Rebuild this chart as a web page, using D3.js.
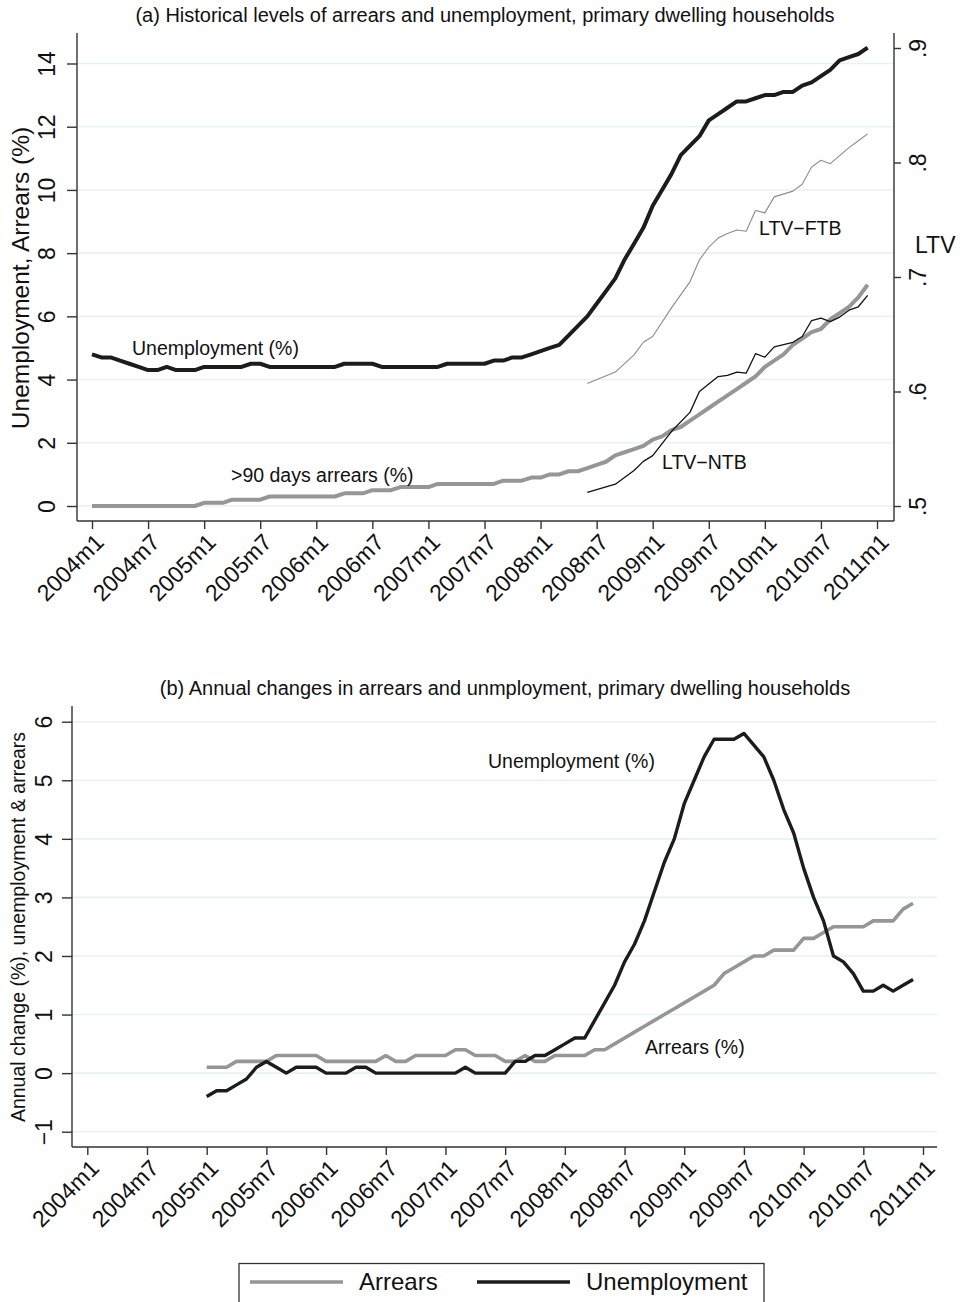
<!DOCTYPE html>
<html>
<head>
<meta charset="utf-8">
<script src="https://cdn.jsdelivr.net/npm/d3@7"></script>
<style>
    body { margin: 0; background: #fff; }
    svg text { font-family: "Liberation Sans", Arial, Helvetica, sans-serif; fill: #111; }
    .grid line { stroke: #e8f1f3; stroke-width: 1.6; }
    .axis path, .axis line { stroke: #333; stroke-width: 1.4; }
    .axis text { font-size: 23px; }
    .series { fill: none; stroke-linejoin: round; stroke-linecap: butt; }
</style>
</head>
<body>
<svg id="chart" width="966" height="1302"></svg>
<script>

/* x axis tick labels (monthly, Stata style) */
var X_TICKS = ["2004m1", "2004m7", "2005m1", "2005m7", "2006m1", "2006m7", "2007m1", "2007m7",
    "2008m1", "2008m7", "2009m1", "2009m7", "2010m1", "2010m7", "2011m1"];

/* panel (a): levels, monthly from 2004m1 */
var LEVEL_START = "2004m1";
var UNEMPLOYMENT_LEVEL = [4.8, 4.7, 4.7, 4.6, 4.5, 4.4, 4.3, 4.3, 4.4, 4.3, 4.3, 4.3,
    4.4, 4.4, 4.4, 4.4, 4.4, 4.5, 4.5, 4.4, 4.4, 4.4, 4.4, 4.4,
    4.4, 4.4, 4.4, 4.5, 4.5, 4.5, 4.5, 4.4, 4.4, 4.4, 4.4, 4.4,
    4.4, 4.4, 4.5, 4.5, 4.5, 4.5, 4.5, 4.6, 4.6, 4.7, 4.7, 4.8,
    4.9, 5.0, 5.1, 5.4, 5.7, 6.0, 6.4, 6.8, 7.2, 7.8, 8.3, 8.8,
    9.5, 10.0, 10.5, 11.1, 11.4, 11.7, 12.2, 12.4, 12.6, 12.8, 12.8, 12.9,
    13.0, 13.0, 13.1, 13.1, 13.3, 13.4, 13.6, 13.8, 14.1, 14.2, 14.3, 14.5];
var ARREARS_LEVEL = [0, 0, 0, 0, 0, 0, 0, 0, 0, 0, 0, 0,
    0.1, 0.1, 0.1, 0.2, 0.2, 0.2, 0.2, 0.3, 0.3, 0.3, 0.3, 0.3,
    0.3, 0.3, 0.3, 0.4, 0.4, 0.4, 0.5, 0.5, 0.5, 0.6, 0.6, 0.6,
    0.6, 0.7, 0.7, 0.7, 0.7, 0.7, 0.7, 0.7, 0.8, 0.8, 0.8, 0.9,
    0.9, 1.0, 1.0, 1.1, 1.1, 1.2, 1.3, 1.4, 1.6, 1.7, 1.8, 1.9,
    2.1, 2.2, 2.4, 2.5, 2.7, 2.9, 3.1, 3.3, 3.5, 3.7, 3.9, 4.1,
    4.4, 4.6, 4.8, 5.1, 5.3, 5.5, 5.6, 5.9, 6.1, 6.3, 6.6, 7.0];

/* LTV series (right axis), only from mid 2008 */
var LTV_FTB_MONTHS = ["2008m6", "2008m9", "2008m11", "2008m12", "2009m1", "2009m3", "2009m5", "2009m6",
    "2009m7", "2009m8", "2009m9", "2009m10", "2009m11", "2009m12", "2010m1", "2010m2", "2010m4",
    "2010m5", "2010m6", "2010m7", "2010m8", "2010m9", "2010m10", "2010m11", "2010m12"];
var LTV_FTB = [0.607, 0.617, 0.632, 0.643, 0.648, 0.673, 0.696, 0.715,
    0.726, 0.734, 0.738, 0.741, 0.740, 0.758, 0.756, 0.770, 0.775,
    0.781, 0.796, 0.802, 0.799, 0.806, 0.813, 0.819, 0.825];
var LTV_NTB_MONTHS = ["2008m6", "2008m9", "2008m11", "2008m12", "2009m1", "2009m3", "2009m5", "2009m6",
    "2009m8", "2009m9", "2009m10", "2009m11", "2009m12", "2010m1", "2010m2", "2010m4",
    "2010m5", "2010m6", "2010m7", "2010m8", "2010m9", "2010m10", "2010m11", "2010m12"];
var LTV_NTB = [0.512, 0.519, 0.531, 0.539, 0.544, 0.565, 0.582, 0.600,
    0.613, 0.614, 0.617, 0.616, 0.633, 0.630, 0.639, 0.643,
    0.648, 0.662, 0.664, 0.661, 0.665, 0.671, 0.674, 0.684];

/* panel (b): annual changes, monthly from 2005m1 */
var CHANGE_START = "2005m1";
var UNEMPLOYMENT_CHANGE = [-0.4, -0.3, -0.3, -0.2, -0.1, 0.1, 0.2, 0.1, 0.0, 0.1, 0.1, 0.1,
    0, 0, 0, 0.1, 0.1, 0, 0, 0, 0, 0, 0, 0,
    0, 0, 0.1, 0, 0, 0, 0, 0.2, 0.2, 0.3, 0.3, 0.4,
    0.5, 0.6, 0.6, 0.9, 1.2, 1.5, 1.9, 2.2, 2.6, 3.1, 3.6, 4.0,
    4.6, 5.0, 5.4, 5.7, 5.7, 5.7, 5.8, 5.6, 5.4, 5.0, 4.5, 4.1,
    3.5, 3.0, 2.6, 2.0, 1.9, 1.7, 1.4, 1.4, 1.5, 1.4, 1.5, 1.6];
var ARREARS_CHANGE = [0.1, 0.1, 0.1, 0.2, 0.2, 0.2, 0.2, 0.3, 0.3, 0.3, 0.3, 0.3,
    0.2, 0.2, 0.2, 0.2, 0.2, 0.2, 0.3, 0.2, 0.2, 0.3, 0.3, 0.3,
    0.3, 0.4, 0.4, 0.3, 0.3, 0.3, 0.2, 0.2, 0.3, 0.2, 0.2, 0.3,
    0.3, 0.3, 0.3, 0.4, 0.4, 0.5, 0.6, 0.7, 0.8, 0.9, 1.0, 1.1,
    1.2, 1.3, 1.4, 1.5, 1.7, 1.8, 1.9, 2.0, 2.0, 2.1, 2.1, 2.1,
    2.3, 2.3, 2.4, 2.5, 2.5, 2.5, 2.5, 2.6, 2.6, 2.6, 2.8, 2.9];

var LEFT_TICKS_A = [0, 2, 4, 6, 8, 10, 12, 14];
var RIGHT_TICKS_A = [0.5, 0.6, 0.7, 0.8, 0.9];
var RIGHT_TICK_LABELS_A = [".5", ".6", ".7", ".8", ".9"];
var LEFT_TICKS_B = [-1, 0, 1, 2, 3, 4, 5, 6];

var COLOR_UNEMP = "#1c1c1c";
var COLOR_ARREARS = "#969696";

/**
 * "2008m6" -> months since 2004m1
 */
function monthIndex(label){
    var parts = label.split("m");
    return (+parts[0] - 2004) * 12 + (+parts[1] - 1);
}

function fromStart(start, values){
    var m0 = monthIndex(start);
    return values.map(function(v, i){ return {m: m0 + i, v: v}; });
}

function fromMonths(months, values){
    return values.map(function(v, i){ return {m: monthIndex(months[i]), v: v}; });
}

var svg = d3.select("#chart");

drawPanelA();
drawPanelB();
drawLegend();

function addLabel(x, y, txt, size, anchor){
    return svg.append("text")
        .attr("x", x).attr("y", y)
        .attr("text-anchor", anchor || "start")
        .style("font-size", size + "px")
        .text(txt);
}

function styleBottomAxis(g){
    g.selectAll(".tick text")
        .attr("y", null).attr("dy", "0.35em")
        .attr("text-anchor", "end")
        .attr("transform", "translate(7,17) rotate(-45)");
    g.select(".domain").attr("stroke-width", 1.6);
}

function drawPanelA(){
    var left = 77, right = 894, top = 33, bottom = 521;
    var x = d3.scaleLinear().domain([0, 84]).range([92, 877]);
    var y = d3.scaleLinear().domain([0, 14]).range([506, 63.5]);
    var yR = d3.scaleLinear().domain([0.5, 0.9]).range([506, 48]);

    /* grid */
    svg.append("g").classed("grid", true).selectAll("line")
        .data(LEFT_TICKS_A).enter().append("line")
        .attr("x1", left).attr("x2", right)
        .attr("y1", function(d){ return y(d); })
        .attr("y2", function(d){ return y(d); });

    var line = d3.line()
        .x(function(d){ return x(d.m); })
        .y(function(d){ return y(d.v); });
    var lineR = d3.line()
        .x(function(d){ return x(d.m); })
        .y(function(d){ return yR(d.v); });

    svg.append("path").classed("series", true)
        .attr("stroke", COLOR_ARREARS).attr("stroke-width", 4)
        .attr("d", line(fromStart(LEVEL_START, ARREARS_LEVEL)));
    svg.append("path").classed("series", true)
        .attr("stroke", "#8c8c8c").attr("stroke-width", 1.1)
        .attr("d", lineR(fromMonths(LTV_FTB_MONTHS, LTV_FTB)));
    svg.append("path").classed("series", true)
        .attr("stroke", "#111").attr("stroke-width", 1.3)
        .attr("d", lineR(fromMonths(LTV_NTB_MONTHS, LTV_NTB)));
    svg.append("path").classed("series", true)
        .attr("stroke", COLOR_UNEMP).attr("stroke-width", 4)
        .attr("d", line(fromStart(LEVEL_START, UNEMPLOYMENT_LEVEL)));

    /* axes */
    var gl = svg.append("g").classed("axis", true)
        .attr("transform", "translate(" + left + ",0)")
        .call(d3.axisLeft(y).tickValues(LEFT_TICKS_A).tickSize(10).tickSizeOuter(0));
    gl.select(".domain").attr("d", "M0," + top + "V" + bottom);
    gl.selectAll(".tick text")
        .attr("x", null).attr("dy", null)
        .attr("text-anchor", "middle")
        .attr("transform", "translate(-22,0) rotate(-90)");

    var gr = svg.append("g").classed("axis", true)
        .attr("transform", "translate(" + right + ",0)")
        .call(d3.axisRight(yR).tickValues(RIGHT_TICKS_A).tickSize(7).tickSizeOuter(0)
            .tickFormat(function(d, i){ return RIGHT_TICK_LABELS_A[i]; }));
    gr.select(".domain").attr("d", "M0," + top + "V" + bottom);
    gr.selectAll(".tick text")
        .attr("x", null).attr("dy", null)
        .attr("text-anchor", "middle")
        .attr("transform", "translate(32,0) rotate(-90)");

    var gb = svg.append("g").classed("axis", true)
        .attr("transform", "translate(0," + bottom + ")")
        .call(d3.axisBottom(x).tickValues(X_TICKS.map(monthIndex)).tickSize(8).tickSizeOuter(0)
            .tickFormat(function(d, i){ return X_TICKS[i]; }));
    gb.select(".domain").attr("d", "M" + left + ",0H" + right);
    styleBottomAxis(gb);

    /* titles and labels */
    addLabel(485, 22, "(a) Historical levels of arrears and unemployment, primary dwelling households", 20, "middle");
    svg.append("text")
        .attr("transform", "translate(29,278) rotate(-90)")
        .attr("text-anchor", "middle")
        .style("font-size", "24.5px")
        .text("Unemployment, Arrears (%)");
    addLabel(915, 253, "LTV", 23);
    addLabel(132, 355, "Unemployment (%)", 19.5);
    addLabel(231, 482, ">90 days arrears (%)", 19.5);
    addLabel(759, 235, "LTV\u2212FTB", 19.5);
    addLabel(662, 469, "LTV\u2212NTB", 19.5);
}

function drawPanelB(){
    var left = 72, right = 937, top = 706, bottom = 1147;
    var x = d3.scaleLinear().domain([0, 84]).range([87.3, 923]);
    var y = d3.scaleLinear().domain([-1, 6]).range([1131.7, 721.7]);

    svg.append("g").classed("grid", true).selectAll("line")
        .data(LEFT_TICKS_B).enter().append("line")
        .attr("x1", left).attr("x2", right)
        .attr("y1", function(d){ return y(d); })
        .attr("y2", function(d){ return y(d); });

    var line = d3.line()
        .x(function(d){ return x(d.m); })
        .y(function(d){ return y(d.v); });

    svg.append("path").classed("series", true)
        .attr("stroke", COLOR_ARREARS).attr("stroke-width", 3.6)
        .attr("d", line(fromStart(CHANGE_START, ARREARS_CHANGE)));
    svg.append("path").classed("series", true)
        .attr("stroke", COLOR_UNEMP).attr("stroke-width", 3.4)
        .attr("d", line(fromStart(CHANGE_START, UNEMPLOYMENT_CHANGE)));

    var gl = svg.append("g").classed("axis", true)
        .attr("transform", "translate(" + left + ",0)")
        .call(d3.axisLeft(y).tickValues(LEFT_TICKS_B).tickSize(10).tickSizeOuter(0)
            .tickFormat(function(d){ return d < 0 ? "\u2212" + Math.abs(d) : d; }));
    gl.select(".domain").attr("d", "M0," + top + "V" + bottom);
    gl.selectAll(".tick text")
        .attr("x", null).attr("dy", null)
        .attr("text-anchor", "middle")
        .attr("transform", "translate(-20,0) rotate(-90)");

    var gb = svg.append("g").classed("axis", true)
        .attr("transform", "translate(0," + bottom + ")")
        .call(d3.axisBottom(x).tickValues(X_TICKS.map(monthIndex)).tickSize(8).tickSizeOuter(0)
            .tickFormat(function(d, i){ return X_TICKS[i]; }));
    gb.select(".domain").attr("d", "M" + left + ",0H" + right);
    styleBottomAxis(gb);

    addLabel(505, 695, "(b) Annual changes in arrears and unmployment, primary dwelling households", 20, "middle");
    svg.append("text")
        .attr("transform", "translate(25,927) rotate(-90)")
        .attr("text-anchor", "middle")
        .style("font-size", "19.5px")
        .text("Annual change (%), unemployment & arrears");
    addLabel(488, 768, "Unemployment (%)", 19.5);
    addLabel(645, 1054, "Arrears (%)", 19.5);
}

function drawLegend(){
    var g = svg.append("g");
    g.append("rect")
        .attr("x", 239).attr("y", 1263.5).attr("width", 525).attr("height", 60)
        .attr("fill", "#fff").attr("stroke", "#333").attr("stroke-width", 1.3);

    var items = [
        {label: "Arrears", color: COLOR_ARREARS, x: 250},
        {label: "Unemployment", color: COLOR_UNEMP, x: 477}
    ];
    items.forEach(function(item){
        g.append("line")
            .attr("x1", item.x).attr("x2", item.x + 93)
            .attr("y1", 1282).attr("y2", 1282)
            .attr("stroke", item.color).attr("stroke-width", 3.6);
        g.append("text")
            .attr("x", item.x + 109).attr("y", 1290)
            .style("font-size", "24px")
            .text(item.label);
    });
}
</script>
</body>
</html>
